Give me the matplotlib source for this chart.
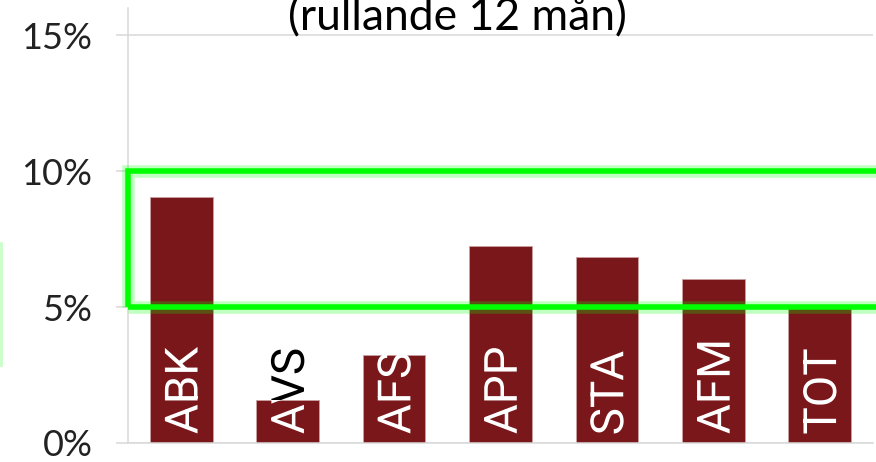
import matplotlib.pyplot as plt
from matplotlib.patches import Rectangle, PathPatch
from matplotlib.lines import Line2D
from matplotlib.textpath import TextPath
from matplotlib.font_manager import FontProperties
from matplotlib.transforms import Affine2D, ScaledTranslation
from matplotlib.ticker import PercentFormatter

categories = ["ABK", "AVS", "AFS", "APP", "STA", "AFM", "TOT"]
values = [9.05, 1.58, 3.25, 7.25, 6.85, 6.05, 4.97]
yticks = [0, 5, 10, 15]
title = "(rullande 12 mån)"

# colour of the part of a label that sticks out above its bar (None = hidden)
outside_color = [None, "black", None, None, None, None, None]

bar_color = "#7a171a"
grid_color = "#d9d9d9"
green = "#00ff00"

plt.rcParams["font.family"] = ["Lato", "DejaVu Sans"]

fig = plt.figure(figsize=(8.76, 4.62), dpi=100)
ax = fig.add_axes([128 / 876, 19 / 462, 745 / 876, 435 / 462])

x = range(len(categories))
bars = ax.bar(x, values, width=0.59, color=bar_color,
              edgecolor="#c9a0a0", linewidth=0.6, zorder=2)

ax.set_xlim(-0.5, len(categories) - 0.5)
ax.set_ylim(0, 16)
ax.set_yticks(yticks)
ax.yaxis.set_major_formatter(PercentFormatter(decimals=0))
ax.set_xticks([])
ax.tick_params(axis="y", length=8.6, width=1.1, color=grid_color,
               pad=17, labelsize=26, labelcolor="#222222")
ax.grid(axis="y", color=grid_color, linewidth=1.1, zorder=0)
for side in ["top", "right"]:
    ax.spines[side].set_visible(False)
for side in ["left", "bottom"]:
    ax.spines[side].set_color(grid_color)
    ax.spines[side].set_linewidth(1.1)

# labels inside the bars, drawn as paths so they can be clipped to the bar
fp = FontProperties(family="Roboto", weight="normal")
for i, (bar, lab, val) in enumerate(zip(bars, categories, values)):
    tp = TextPath((0, 0), lab, size=33, prop=fp)
    ext = tp.get_extents()
    tr = (Affine2D().translate(-ext.x0, -(ext.y0 + ext.y1) / 2)
          .rotate_deg(90).scale(1 / 72)
          + fig.dpi_scale_trans
          + ScaledTranslation(i, 0.35, ax.transData))
    inside = PathPatch(tp, transform=tr, facecolor="white",
                       edgecolor="none", zorder=4)
    ax.add_patch(inside)
    inside.set_clip_path(bar)
    if outside_color[i]:
        above = Rectangle((i - 0.5, val), 1, 16 - val,
                          transform=ax.transData)
        outside = PathPatch(tp, transform=tr, facecolor=outside_color[i],
                            edgecolor="none", zorder=4)
        ax.add_patch(outside)
        outside.set_clip_path(above)

# green highlight box 5-10 %
for lw, a in [(9, 0.25), (4, 1.0)]:
    r = Rectangle((-0.5, 5), 8, 5, fill=False, edgecolor=green,
                  linewidth=lw, alpha=a, clip_on=False, zorder=5)
    ax.add_patch(r)

# faint green edge at left border
fig.add_artist(Line2D([1 / 876, 1 / 876], [1 - 243 / 462, 1 - 365 / 462],
                      color="#c8ffc8", linewidth=2))

fig.text(457 / 876, 1 - 30 / 462, title, ha="center", va="baseline",
         fontsize=32, color="black")

fig.savefig("out.png", dpi=100)
